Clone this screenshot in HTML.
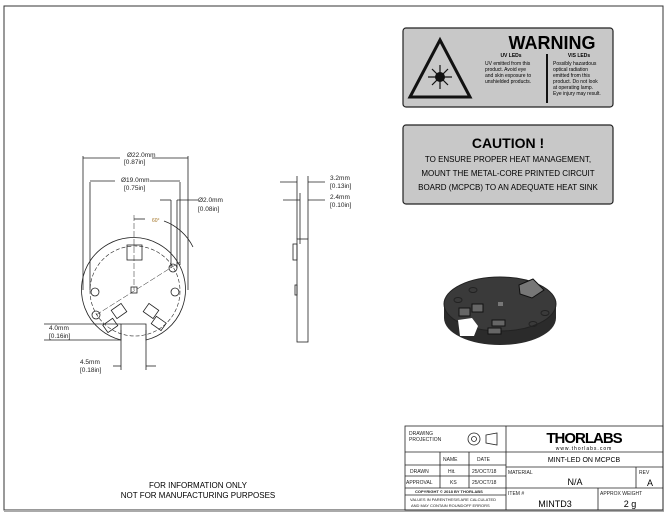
<html><body style="margin:0;background:#fff">
<svg width="669" height="514" viewBox="0 0 669 514" xmlns="http://www.w3.org/2000/svg" font-family="Liberation Sans, sans-serif">
<rect x="0" y="0" width="669" height="514" fill="#fff"/>
<rect x="4" y="6" width="659" height="504" fill="none" stroke="#333" stroke-width="1"/>
<line x1="4" y1="511" x2="664" y2="511" stroke="#aaa" stroke-width="2"/>
<!-- warning -->
<rect x="403" y="28" width="210" height="79" rx="3" fill="#c8c8c8" stroke="#222" stroke-width="1.2"/>
<polygon points="440,40 470,97 410,97" fill="none" stroke="#111" stroke-width="3"/>
<circle cx="440" cy="77" r="5" fill="#111"/>
<g stroke="#111" stroke-width="1.2"><line x1="428" y1="77" x2="452" y2="77"/><line x1="440" y1="65" x2="440" y2="89"/><line x1="432" y1="69" x2="448" y2="85"/><line x1="448" y1="69" x2="432" y2="85"/></g>
<text x="552" y="49" font-size="18" font-weight="bold" text-anchor="middle">WARNING</text>
<text x="511" y="57" font-size="5" font-weight="bold" text-anchor="middle">UV LEDs</text>
<text x="579" y="57" font-size="5" font-weight="bold" text-anchor="middle">VIS LEDs</text>
<g font-size="5"><text x="485" y="65">UV emitted from this</text><text x="485" y="71">product. Avoid eye</text><text x="485" y="77">and skin exposure to</text><text x="485" y="83">unshielded products.</text>
<text x="553" y="65">Possibly hazardous</text><text x="553" y="71">optical radiation</text><text x="553" y="77">emitted from this</text><text x="553" y="83">product. Do not look</text><text x="553" y="89">at operating lamp.</text><text x="553" y="95">Eye injury may result.</text></g>
<line x1="547" y1="54" x2="547" y2="103" stroke="#111" stroke-width="2"/>
<rect x="403" y="125" width="210" height="79" rx="3" fill="#c8c8c8" stroke="#222" stroke-width="1.2"/>
<text x="508" y="148" font-size="14" font-weight="bold" text-anchor="middle">CAUTION !</text>
<g font-size="8" text-anchor="middle"><text x="508" y="162">TO ENSURE PROPER HEAT MANAGEMENT,</text><text x="508" y="176">MOUNT THE METAL-CORE PRINTED CIRCUIT</text><text x="508" y="190">BOARD (MCPCB) TO AN ADEQUATE HEAT SINK</text></g>
<!-- front view -->
<g fill="none" stroke="#222" stroke-width="0.8">
<path d="M121,340 A52,52 0 1 1 146,340 L146,324 L121,324 Z" fill="#fff"/>
<circle cx="135" cy="291" r="45" stroke-dasharray="4,2" stroke-width="0.6"/>
<circle cx="95" cy="292" r="4"/><circle cx="175" cy="292" r="4"/><circle cx="173" cy="268" r="4"/><circle cx="96" cy="315" r="4"/>
<rect x="127" y="245" width="15" height="15"/>
<rect x="131" y="287" width="6" height="6"/>
<line x1="96" y1="315" x2="180" y2="262" stroke-dasharray="6,2" stroke-width="0.5"/>
<line x1="134" y1="215" x2="134" y2="290" stroke-dasharray="6,2" stroke-width="0.5"/>
<rect x="113" y="306" width="12" height="10" transform="rotate(-35 119 311)"/>
<rect x="104" y="321" width="12" height="9" transform="rotate(-35 110 325)"/>
<rect x="145" y="306" width="12" height="10" transform="rotate(35 151 311)"/>
<rect x="153" y="319" width="12" height="9" transform="rotate(35 159 323)"/>
<line x1="83" y1="156" x2="83" y2="290"/><line x1="188" y1="156" x2="188" y2="290"/>
<line x1="90" y1="182" x2="90" y2="290"/><line x1="180" y1="182" x2="180" y2="265"/>
<line x1="171" y1="200" x2="171" y2="268"/><line x1="177" y1="200" x2="177" y2="268"/>
<path d="M164,221 A52,52 0 0 1 193,247"/>
<line x1="121" y1="330" x2="121" y2="370"/><line x1="146" y1="330" x2="146" y2="370"/>
<line x1="44" y1="324" x2="121" y2="324"/><line x1="44" y1="340" x2="121" y2="340"/>
<!-- side -->
<rect x="297" y="239" width="11" height="103" fill="#fff"/>
<rect x="293" y="244" width="4" height="16"/><rect x="295" y="285" width="2" height="10"/>
<line x1="297" y1="176" x2="297" y2="239"/><line x1="308" y1="176" x2="308" y2="239"/><line x1="300" y1="193" x2="300" y2="244"/>
</g>
<g stroke="#222" stroke-width="0.8">
<line x1="83" y1="158" x2="120" y2="158"/><line x1="152" y1="158" x2="188" y2="158"/>
<line x1="90" y1="181" x2="115" y2="181"/><line x1="150" y1="181" x2="180" y2="181"/>
<line x1="160" y1="200" x2="171" y2="200"/><line x1="177" y1="200" x2="198" y2="200"/>
<line x1="134" y1="219" x2="145" y2="219"/>
<line x1="280" y1="182" x2="297" y2="182"/><line x1="308" y1="182" x2="325" y2="182"/>
<line x1="283" y1="200" x2="300" y2="200"/><line x1="308" y1="200" x2="325" y2="200"/>
<line x1="113" y1="366" x2="121" y2="366"/><line x1="146" y1="366" x2="156" y2="366"/>
</g>
<g font-size="6.5" fill="#222">
<text x="127" y="157">Ø22.0mm</text><text x="124" y="164">[0.87in]</text>
<text x="121" y="182">Ø19.0mm</text><text x="124" y="190">[0.75in]</text>
<text x="198" y="202">Ø2.0mm</text><text x="198" y="211">[0.08in]</text>
<text x="152" y="222" fill="#a07020" font-size="5">60°</text>
<text x="330" y="180">3.2mm</text><text x="330" y="188">[0.13in]</text>
<text x="330" y="199">2.4mm</text><text x="330" y="207">[0.10in]</text>
<text x="49" y="330">4.0mm</text><text x="49" y="338">[0.16in]</text>
<text x="80" y="364">4.5mm</text><text x="80" y="372">[0.18in]</text>
</g>
<!-- 3D -->
<g>
<ellipse cx="500" cy="318" rx="56" ry="27" fill="#2b2b2b"/>
<rect x="444" y="304" width="112" height="14" fill="#2b2b2b"/>
<ellipse cx="500" cy="304" rx="56" ry="27" fill="#3a3a3a" stroke="#222"/>
<polygon points="458,320 472,318 478,326 474,336 460,336" fill="#fff"/>
<polygon points="519,285 533,279 544,290 532,298 520,294" fill="#777" stroke="#111"/>
<rect x="459" y="308" width="11" height="8" fill="#666" stroke="#111"/>
<rect x="472" y="304" width="11" height="8" fill="#666" stroke="#111"/>
<rect x="492" y="320" width="13" height="6" fill="#666" stroke="#111"/>
<rect x="488" y="328" width="13" height="6" fill="#666" stroke="#111"/>
<rect x="498" y="302" width="5" height="4" fill="#777"/>
<g fill="none" stroke="#222"><ellipse cx="473" cy="290" rx="4" ry="2.5"/><ellipse cx="458" cy="300" rx="4" ry="2.5"/><ellipse cx="545" cy="313" rx="4" ry="2.5"/><ellipse cx="533" cy="324" rx="4" ry="2.5"/></g>
</g>
<g font-size="8" text-anchor="middle"><text x="198" y="488">FOR INFORMATION ONLY</text><text x="198" y="498">NOT FOR MANUFACTURING PURPOSES</text></g>
<!-- title block -->
<g fill="none" stroke="#222" stroke-width="0.8">
<rect x="405" y="426" width="258" height="84"/>
<line x1="506" y1="426" x2="506" y2="510"/>
<line x1="405" y1="452" x2="663" y2="452"/>
<line x1="405" y1="465" x2="506" y2="465"/><line x1="405" y1="476" x2="506" y2="476"/><line x1="405" y1="488" x2="663" y2="488"/><line x1="405" y1="495" x2="506" y2="495"/>
<line x1="506" y1="467" x2="663" y2="467"/>
<line x1="440" y1="452" x2="440" y2="488"/><line x1="469" y1="452" x2="469" y2="488"/>
<line x1="636" y1="467" x2="636" y2="488"/><line x1="598" y1="488" x2="598" y2="510"/>
<circle cx="474" cy="439" r="6"/><circle cx="474" cy="439" r="2.5"/>
<path d="M486,435 L497,433 L497,445 L486,443 Z"/>
</g>
<g font-size="5" fill="#222">
<text x="409" y="435">DRAWING</text><text x="409" y="441">PROJECTION</text>
<text x="443" y="461">NAME</text><text x="477" y="461">DATE</text>
<text x="410" y="473">DRAWN</text><text x="448" y="473">Hit.</text><text x="472" y="473">25/OCT/18</text>
<text x="406" y="484">APPROVAL</text><text x="450" y="484">KS</text><text x="472" y="484">25/OCT/18</text>
<text x="415" y="493" font-size="4" font-weight="bold">COPYRIGHT © 2018 BY THORLABS</text>
<text x="410" y="501" font-size="4">VALUES IN PARENTHESIS ARE CALCULATED</text><text x="411" y="507" font-size="4">AND MAY CONTAIN ROUNDOFF ERRORS</text>
<text x="508" y="474">MATERIAL</text><text x="639" y="474">REV</text>
<text x="508" y="495">ITEM #</text><text x="600" y="495">APPROX WEIGHT</text>
</g>
<text x="584" y="443" font-size="15" font-weight="bold" text-anchor="middle" letter-spacing="-1">THORLABS</text>
<text x="584" y="450" font-size="5" text-anchor="middle" letter-spacing="1">www.thorlabs.com</text>
<text x="584" y="462" font-size="7" text-anchor="middle">MINT-LED ON MCPCB</text>
<text x="575" y="485" font-size="9" text-anchor="middle">N/A</text>
<text x="650" y="486" font-size="9" text-anchor="middle">A</text>
<text x="555" y="507" font-size="9" text-anchor="middle">MINTD3</text>
<text x="630" y="507" font-size="9" text-anchor="middle">2 g</text>
</svg>
</body></html>
